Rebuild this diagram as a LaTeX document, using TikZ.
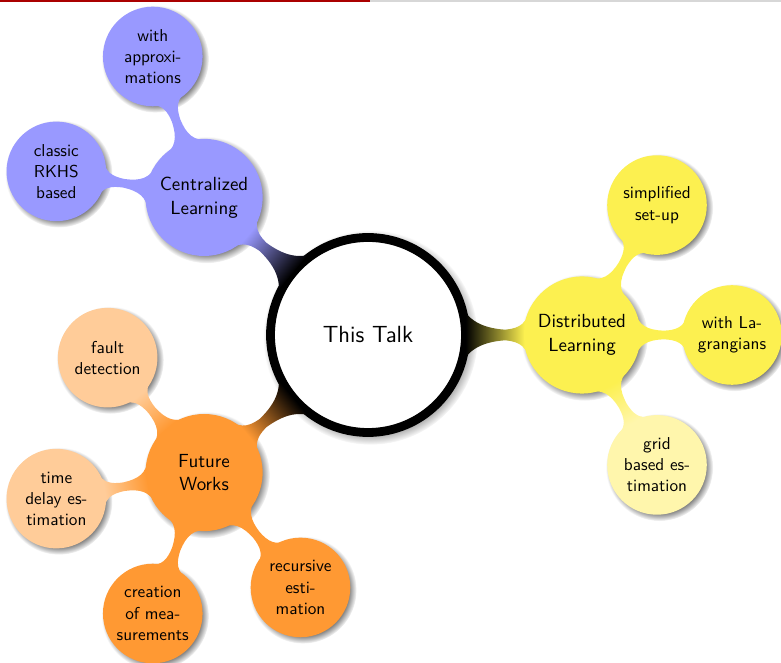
\documentclass[tikz,border=0pt]{standalone}
\usepackage{fontspec}
\usepackage{xcolor}
\usepackage{tikz}
\usetikzlibrary{mindmap, shadows, positioning}

\colorlet{centralcolor}{blue!40}
\definecolor{distcolor}{RGB}{252,240,80}
\definecolor{gridcolor}{RGB}{255,246,172}
\colorlet{futurecolor}{orange!80}
\colorlet{futurelight}{orange!40}
\definecolor{headred}{RGB}{170,0,0}
\definecolor{headgray}{RGB}{215,215,215}

\begin{document}
\begin{tikzpicture}[mindmap,
  every node/.style={concept, circular drop shadow, text=black, align=center, text width={}},
  root concept/.append style={concept color=black, fill=white, line width=5pt,
    minimum size=3.9cm, inner sep=0pt, font=\sffamily\fontsize{13.3}{16}\selectfont},
  level 1 concept/.append style={minimum size=2.3cm, inner sep=0pt,
    font=\sffamily\fontsize{10.8}{13.6}\selectfont},
  level 2 concept/.append style={minimum size=1.95cm, inner sep=0pt,
    font=\sffamily\fontsize{9.8}{12}\selectfont},
  level 1/.append style={level distance=4.28cm},
  level 2/.append style={level distance=3cm}]

  % Frame
  \useasboundingbox (-7.36,-6.56) rectangle (8.26,6.70);

  % Head line
  \fill[headred]  (-7.36,6.66) rectangle (0.04,6.70);
  \fill[headgray] (0.04,6.66) rectangle (8.26,6.70);

  % --- Mind map ---------------------------------------------------
  \node[root concept] (talk) at (0,0) {This Talk}
    child[grow=140, concept color=centralcolor] {node (central) {Centralized\\Learning}
      child[grow=110] {node (approx) {with\\approxi-\\mations}}
      child[grow=170] {node (rkhs) {classic\\RKHS\\based}}
    }
    child[grow=0, concept color=distcolor] {node (distrib) {Distributed\\Learning}
      child[grow=60] {node (simple) {simplified\\set-up}}
      child[grow=0] {node (lagrange) {with La-\\grangians}}
      child[grow=-60, concept color=gridcolor] {node (grid) {grid\\based es-\\timation}}
    }
    child[grow=220, concept color=futurecolor] {node (future) {Future\\Works}
      child[grow=130, concept color=futurelight] {node (fault) {fault\\detection}}
      child[grow=190, concept color=futurelight] {node (delay) {time\\delay es-\\timation}}
      child[grow=250] {node (meas) {creation\\of mea-\\surements}}
      child[grow=310] {node (recur) {recursive\\esti-\\mation}}
    };
\end{tikzpicture}
\end{document}
